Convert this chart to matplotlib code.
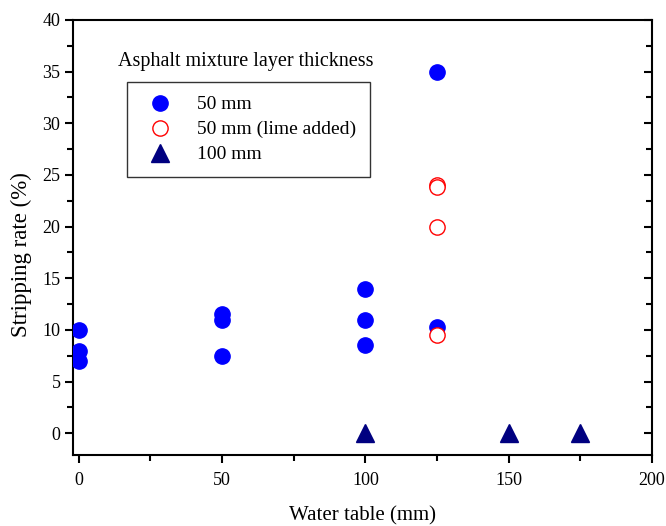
import matplotlib
matplotlib.use("Agg")
import matplotlib.pyplot as plt
from matplotlib.ticker import MultipleLocator

# ── data ──
x_50 = [0, 0, 0, 50, 50, 50, 100, 100, 100, 125, 125]
y_50 = [10, 8, 7, 11.5, 11, 7.5, 14, 11, 8.5, 35, 10.3]

x_lime = [125, 125, 125, 125]
y_lime = [24, 23.8, 20, 9.5]

x_100 = [100, 150, 175]
y_100 = [0, 0, 0]

plt.rcParams["font.family"] = ["Liberation Serif", "DejaVu Serif"]

fig = plt.figure(figsize=(6.66, 5.26), dpi=100)
ax = fig.add_axes([0.1096, 0.135, 0.8694, 0.827])

ax.plot(x_50, y_50, "o", color="#0000ff", ms=11, mec="#0000ff", label="50 mm", zorder=3)
ax.plot(x_lime, y_lime, "o", color="white", ms=11, mec="#ff0000", mew=1.0,
        label="50 mm (lime added)", zorder=4)
ax.plot(x_100, y_100, "^", color="#000080", ms=13, mec="#000080", label="100 mm", zorder=3)

ax.set_xlim(-2, 200)
ax.set_ylim(-2.1, 40)
ax.xaxis.set_major_locator(MultipleLocator(50))
ax.xaxis.set_minor_locator(MultipleLocator(25))
ax.yaxis.set_major_locator(MultipleLocator(5))
ax.yaxis.set_minor_locator(MultipleLocator(2.5))

ax.tick_params(which="both", direction="out", width=1.5, labelsize=13)
ax.tick_params(which="major", length=6)
ax.tick_params(which="minor", length=4)
ax.tick_params(axis="x", which="major", pad=6)
ax.tick_params(axis="y", which="major", pad=3)
ax.tick_params(axis="y", which="both", right=True, labelright=False)
for s in ax.spines.values():
    s.set_linewidth(1.5)

# right-side ticks point inward
for t in ax.yaxis.get_major_ticks() + ax.yaxis.get_minor_ticks():
    t.tick2line.set_marker(matplotlib.markers.TICKLEFT)

ax.set_xlabel("Water table (mm)", fontsize=15)
ax.xaxis.set_label_coords(0.5, -0.118)
ax.set_ylabel("Stripping rate (%)", fontsize=16.5)
ax.yaxis.set_label_coords(-0.07, 0.46)

ax.text(0.078, 0.905, "Asphalt mixture layer thickness", transform=ax.transAxes,
        fontsize=14.5, ha="left", va="center")
leg = ax.legend(loc="upper left", bbox_to_anchor=(0.094, 0.857), fontsize=14,
                frameon=True, fancybox=False, edgecolor="black", borderpad=0.7,
                handletextpad=0.9, labelspacing=0.38, handlelength=2.0,
                borderaxespad=0)
leg.get_frame().set_linewidth(1.0)

fig.savefig("out.png", dpi=100)
